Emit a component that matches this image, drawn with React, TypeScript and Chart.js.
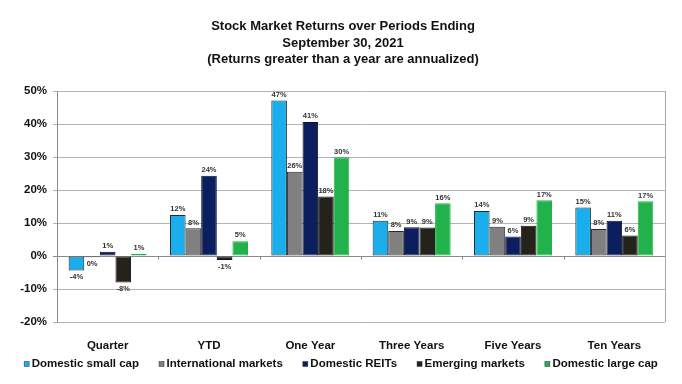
import React, { useEffect, useRef } from "react";
import { Chart, registerables } from "chart.js";

Chart.register(...registerables);

const categories = ["Quarter", "YTD", "One Year", "Three Years", "Five Years", "Ten Years"];
const seriesNames = [
  "Domestic small cap",
  "International markets",
  "Domestic REITs",
  "Emerging markets",
  "Domestic large cap",
];
const smallCap = [-4.4, 12.4, 47.1, 10.7, 13.6, 14.7];
const international = [-0.4, 8.4, 25.5, 7.6, 8.9, 8.2];
const reits = [1.3, 24.3, 40.6, 8.7, 5.9, 10.7];
const emerging = [-8.0, -1.2, 18.0, 8.6, 9.2, 6.2];
const largeCap = [0.6, 4.5, 29.9, 16.0, 16.9, 16.6];
const seriesColors = ["#1aafec", "#808080", "#0b1f5e", "#25221b", "#22b24c"];
const seriesBorders = ["#1b2a3a", "#2a2a2a", "#0a1030", "#111111", "#22b24c"];
const titleLines = [
  "Stock Market Returns over Periods Ending",
  "September 30, 2021",
  "(Returns greater than a year are annualized)",
];
const yMin = -20;
const yMax = 50;
const yStep = 10;

const FONT = "'Liberation Sans', Arial, Helvetica, sans-serif";

const decorPlugin = {
  id: "decor",
  afterDatasetsDraw(chart: any) {
    const ctx = chart.ctx;
    const area = chart.chartArea;
    const y = chart.scales.y;
    ctx.save();
    // right border
    ctx.strokeStyle = "#a8a8a8";
    ctx.lineWidth = 1;
    ctx.beginPath();
    ctx.moveTo(Math.round(area.right) + 0.5, area.top);
    ctx.lineTo(Math.round(area.right) + 0.5, area.bottom);
    ctx.stroke();
    // category tick marks on zero line
    const y0 = Math.round(y.getPixelForValue(0)) + 0.5;
    const n = categories.length;
    const w = (area.right - area.left) / n;
    ctx.strokeStyle = "#808080";
    ctx.beginPath();
    for (let i = 1; i < n; i++) {
      const px = Math.round(area.left + w * i) + 0.5;
      ctx.moveTo(px, y0);
      ctx.lineTo(px, y0 + 3);
    }
    ctx.stroke();
    // data labels
    ctx.font = `bold 7.5px ${FONT}`;
    ctx.fillStyle = "#333333";
    ctx.textAlign = "center";
    chart.data.datasets.forEach((ds: any, di: number) => {
      const meta = chart.getDatasetMeta(di);
      meta.data.forEach((el: any, i: number) => {
        const v = ds.data[i];
        const txt = `${Math.round(v)}%`;
        if (v >= 0) {
          ctx.textBaseline = "bottom";
          ctx.fillText(txt, el.x, el.y - 2);
        } else {
          ctx.textBaseline = "top";
          ctx.fillText(txt, el.x, el.y + 3);
        }
      });
    });
    ctx.restore();
  },
  afterDraw(chart: any) {
    const ctx = chart.ctx;
    ctx.save();
    // title
    ctx.fillStyle = "#111111";
    ctx.font = `bold 13px ${FONT}`;
    ctx.textAlign = "center";
    ctx.textBaseline = "alphabetic";
    const baselines = [30, 46.5, 63];
    titleLines.forEach((t, i) => ctx.fillText(t, 343, baselines[i]));
    // legend
    ctx.font = `bold 11.5px ${FONT}`;
    const box = 5;
    const gapBox = 2.5;
    const gapItem = 20;
    const widths = seriesNames.map((s) => ctx.measureText(s).width);
    const total =
      widths.reduce((a, b) => a + b, 0) + seriesNames.length * (box + gapBox) + (seriesNames.length - 1) * gapItem;
    let lx = 341 - total / 2;
    const ly = 364;
    ctx.textAlign = "left";
    ctx.textBaseline = "middle";
    seriesNames.forEach((s, i) => {
      ctx.fillStyle = seriesColors[i];
      ctx.fillRect(lx, ly - box / 2, box, box);
      ctx.strokeStyle = "#333";
      ctx.lineWidth = 0.5;
      ctx.strokeRect(lx, ly - box / 2, box, box);
      ctx.fillStyle = "#111111";
      ctx.fillText(s, lx + box + gapBox, ly);
      lx += box + gapBox + widths[i] + gapItem;
    });
    ctx.restore();
  },
};

export default function App() {
  const ref = useRef<HTMLCanvasElement | null>(null);
  useEffect(() => {
    if (!ref.current) return;
    const values = [smallCap, international, reits, emerging, largeCap];
    const chart = new Chart(ref.current, {
      type: "bar",
      data: {
        labels: categories,
        datasets: seriesNames.map((name, i) => ({
          label: name,
          data: values[i],
          backgroundColor: seriesColors[i],
          borderColor: seriesBorders[i],
          borderWidth: 1,
          borderSkipped: false,
          categoryPercentage: 0.77,
          barPercentage: 1,
        })),
      },
      options: {
        animation: false,
        responsive: false,
        devicePixelRatio: 1,
        layout: { padding: { top: 91, right: 17, bottom: 32, left: 0 } },
        plugins: {
          legend: { display: false },
          title: { display: false },
          tooltip: { enabled: false },
        },
        scales: {
          x: {
            grid: { display: false },
            border: { display: false },
            ticks: {
              color: "#111111",
              font: { family: FONT, size: 11.5, weight: "bold" },
              padding: 9,
              maxRotation: 0,
            },
            afterFit: (s: any) => {
              s.height = 30;
            },
          },
          y: {
            min: yMin,
            max: yMax,
            grid: {
              color: (c: any) => (c.tick && c.tick.value === 0 ? "#8a8a8a" : "#b4b4b4"),
              tickLength: 4,
            },
            border: { display: true, color: "#8a8a8a" },
            ticks: {
              stepSize: yStep,
              color: "#111111",
              padding: 6,
              font: { family: FONT, size: 11.5, weight: "bold" },
              callback: (v: any) => `${v}%`,
            },
            afterFit: (s: any) => {
              s.width = 57;
            },
          },
        },
      },
      plugins: [decorPlugin],
    });
    return () => chart.destroy();
  }, []);
  return (
    <div style={{ position: "fixed", left: 0, top: 0, width: 682, height: 384, background: "#fff" }}>
      <canvas ref={ref} width={682} height={384} style={{ width: 682, height: 384, display: "block" }} />
    </div>
  );
}
